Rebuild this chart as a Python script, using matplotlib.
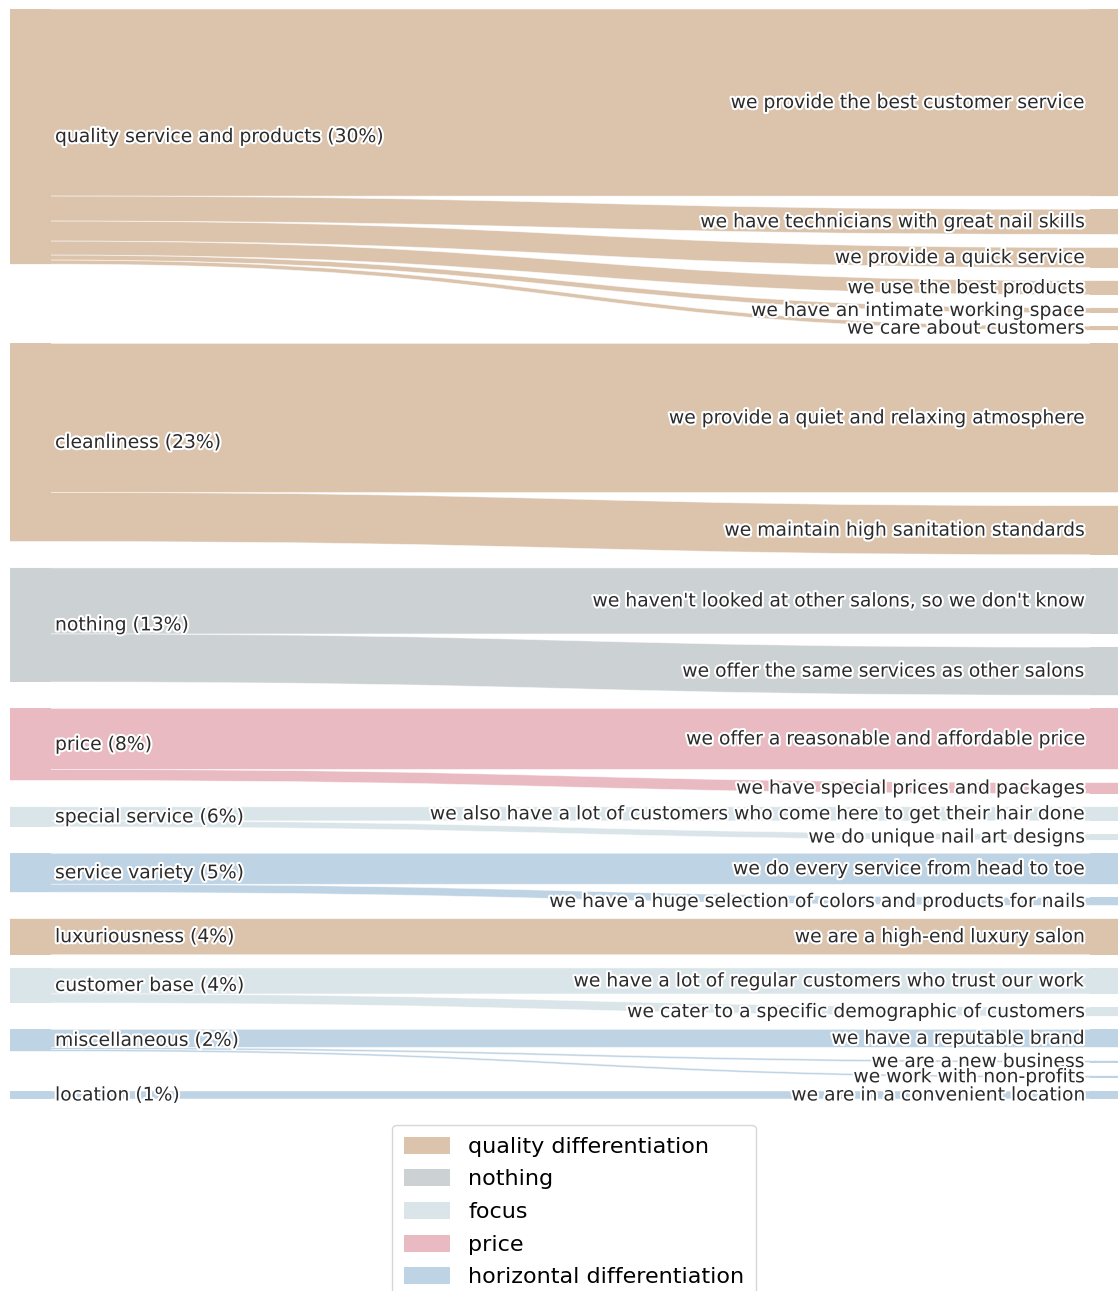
import numpy as np
import matplotlib
matplotlib.use("Agg")
import matplotlib.pyplot as plt
from matplotlib.path import Path
from matplotlib.patches import PathPatch, Patch, Rectangle
import matplotlib.patheffects as pe

# =====================
# DATA
# =====================
left_labels = [
    "quality service and products (30%)",
    "cleanliness (23%)",
    "nothing (13%)",
    "price (8%)",
    "special service (6%)",
    "service variety (5%)",
    "luxuriousness (4%)",
    "customer base (4%)",
    "miscellaneous (2%)",
    "location (1%)",
]
left_groups = [
    "quality differentiation",
    "quality differentiation",
    "nothing",
    "price",
    "focus",
    "horizontal differentiation",
    "quality differentiation",
    "focus",
    "horizontal differentiation",
    "horizontal differentiation",
]

# link source (index into left_labels), target label, value
link_source = [0, 0, 0, 0, 0, 0,
               1, 1,
               2, 2,
               3, 3,
               4, 4,
               5, 5,
               6,
               7, 7,
               8, 8, 8,
               9]
link_target = [
    "we provide the best customer service",
    "we have technicians with great nail skills",
    "we provide a quick service",
    "we use the best products",
    "we have an intimate working space",
    "we care about customers",
    "we provide a quiet and relaxing atmosphere",
    "we maintain high sanitation standards",
    "we haven't looked at other salons, so we don't know",
    "we offer the same services as other salons",
    "we offer a reasonable and affordable price",
    "we have special prices and packages",
    "we also have a lot of customers who come here to get their hair done",
    "we do unique nail art designs",
    "we do every service from head to toe",
    "we have a huge selection of colors and products for nails",
    "we are a high-end luxury salon",
    "we have a lot of regular customers who trust our work",
    "we cater to a specific demographic of customers",
    "we have a reputable brand",
    "we are a new business",
    "we work with non-profits",
    "we are in a convenient location",
]
link_value = [187, 25, 20, 14, 5, 4,
              149, 49,
              66, 48,
              61, 11,
              14, 6,
              31, 8,
              36,
              26, 9,
              18, 2, 2,
              8]

legend_names = ["quality differentiation", "nothing", "focus", "price",
                "horizontal differentiation"]
group_colors = {
    "quality differentiation": "#dbc3ac",
    "nothing": "#ccd1d4",
    "focus": "#d9e5e9",
    "price": "#eabac2",
    "horizontal differentiation": "#bed3e4",
}

# =====================
# LAYOUT
# =====================
W, H = 1118, 1291
NODE_PAD = 13.2
LEFT_X0, LEFT_X1 = 10, 50
RIGHT_X0, RIGHT_X1 = 1090, 1130
FS = 13.5

# right nodes stacked top to bottom, one per link
right_top = []
y = 0.0
for v in link_value:
    right_top.append(y)
    y += v + NODE_PAD
span = y - NODE_PAD

# left node top = top of its first target
left_top = {}
left_total = {}
for i, s in enumerate(link_source):
    left_top.setdefault(s, right_top[i])
    left_total[s] = left_total.get(s, 0) + link_value[i]

fig = plt.figure(figsize=(W / 100, H / 100), dpi=100)
top_px, bot_px = 9, 1099
ax = fig.add_axes([0, 1 - bot_px / H, 1, (bot_px - top_px) / H])
ax.set_xlim(0, W)
ax.set_ylim(span, 0)
ax.axis("off")

# =====================
# LINKS
# =====================
offset = {s: left_top[s] for s in left_top}
for i, s in enumerate(link_source):
    color = group_colors[left_groups[s]]
    v = link_value[i]
    sy0 = offset[s]
    sy1 = sy0 + v
    offset[s] = sy1
    ty0 = right_top[i]
    ty1 = ty0 + v
    xm = (LEFT_X1 + RIGHT_X0) / 2
    verts = [
        (LEFT_X0, sy0), (LEFT_X1, sy0),
        (xm, sy0), (xm, ty0), (RIGHT_X0, ty0),
        (RIGHT_X1, ty0), (RIGHT_X1, ty1), (RIGHT_X0, ty1),
        (xm, ty1), (xm, sy1), (LEFT_X1, sy1),
        (LEFT_X0, sy1), (LEFT_X0, sy0),
    ]
    codes = [Path.MOVETO, Path.LINETO,
             Path.CURVE4, Path.CURVE4, Path.CURVE4,
             Path.LINETO, Path.LINETO, Path.LINETO,
             Path.CURVE4, Path.CURVE4, Path.CURVE4,
             Path.LINETO, Path.CLOSEPOLY]
    ax.add_patch(PathPatch(Path(verts, codes), facecolor=color,
                           edgecolor=(1, 1, 1, 0.55), linewidth=0.6))

# nodes (cover link seams)
for s in left_top:
    color = group_colors[left_groups[s]]
    ax.add_patch(Rectangle((LEFT_X0, left_top[s]), LEFT_X1 - LEFT_X0 + 0.5,
                           left_total[s], facecolor=color, edgecolor="none"))
for i, s in enumerate(link_source):
    color = group_colors[left_groups[s]]
    ax.add_patch(Rectangle((RIGHT_X0 - 0.5, right_top[i]), RIGHT_X1 - RIGHT_X0,
                           link_value[i], facecolor=color, edgecolor="none"))

# =====================
# LABELS
# =====================
halo = [pe.withStroke(linewidth=3, foreground="white")]

for s in left_top:
    ax.text(LEFT_X1 + 5, left_top[s] + left_total[s] / 2, left_labels[s],
            ha="left", va="center", fontsize=FS, color="#2b2b2b",
            path_effects=halo)

for i, name in enumerate(link_target):
    ax.text(RIGHT_X0 - 5, right_top[i] + link_value[i] / 2, name,
            ha="right", va="center", fontsize=FS, color="#2b2b2b",
            path_effects=halo)

# =====================
# LEGEND
# =====================
handles = [Patch(facecolor=group_colors[n], edgecolor="none", label=n)
           for n in legend_names]
leg = fig.legend(handles=handles, loc="upper center",
                 bbox_to_anchor=(574 / W, 1 - 1125 / H),
                 fontsize=16, handlelength=2.1, handleheight=0.8,
                 labelspacing=0.56, handletextpad=0.8, borderpad=0.52,
                 borderaxespad=0, frameon=True, fancybox=True)
leg.get_frame().set_edgecolor("#cccccc")

fig.savefig("out.png", dpi=100)
